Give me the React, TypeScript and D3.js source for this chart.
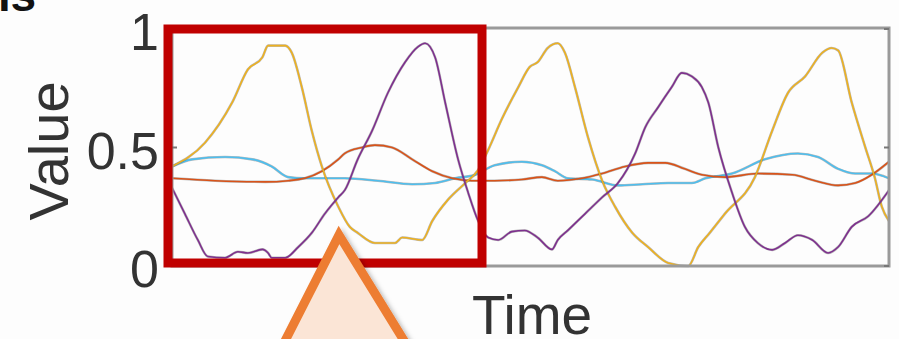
import React, { useEffect, useRef } from 'react';
import * as d3 from 'd3';

// series: [time, value]
const yellowData: [number, number][] = [
  [0, 0.42], [4.6, 0.52], [8.4, 0.69], [10.6, 0.83], [12.6, 0.88], [13.4, 0.93], [15.8, 0.93],
  [16.7, 0.9], [18.1, 0.755], [19.5, 0.57], [20.9, 0.42], [23.2, 0.25], [24.8, 0.165], [25.9, 0.14],
  [28.3, 0.097], [31.1, 0.097], [32.1, 0.12], [34.9, 0.11], [36.3, 0.19], [38.5, 0.28], [40.9, 0.35],
  [42.7, 0.405], [44.1, 0.49], [46.0, 0.62], [48.3, 0.755], [49.9, 0.84], [51.0, 0.86], [52.4, 0.92],
  [53.8, 0.94], [54.8, 0.9], [56.2, 0.755], [58.0, 0.545], [60.0, 0.36], [61.8, 0.25], [64.2, 0.14],
  [66.4, 0.08], [69.2, 0.013], [72.0, 0], [73.4, 0.08], [75.0, 0.14], [77.1, 0.22], [81.3, 0.375],
  [83.7, 0.57], [85.9, 0.73], [88.3, 0.8], [90.7, 0.9], [92.0, 0.92], [92.9, 0.91], [94.8, 0.69],
  [96.7, 0.5], [98.0, 0.375], [99.0, 0.25], [100, 0.19],
];

const purpleData: [number, number][] = [
  [0, 0.33], [1.8, 0.22], [3.6, 0.11], [5.0, 0.04], [7.4, 0.035], [9.2, 0.06], [10.6, 0.055],
  [12.6, 0.07], [13.4, 0.055], [13.9, 0.035], [15.8, 0.035], [17.6, 0.08], [19.5, 0.14], [21.3, 0.22],
  [23.2, 0.29], [24.1, 0.32], [25.9, 0.45], [27.9, 0.57], [30.1, 0.73], [32.5, 0.86], [34.3, 0.925],
  [35.3, 0.94], [36.7, 0.88], [38.1, 0.69], [39.9, 0.45], [41.3, 0.31], [42.7, 0.19], [44.1, 0.12],
  [45.5, 0.11], [47.4, 0.145], [49.2, 0.15], [51.0, 0.12], [53.0, 0.07], [53.8, 0.11], [55.2, 0.15],
  [57.6, 0.22], [60.0, 0.29], [62.2, 0.35], [64.6, 0.475], [66.0, 0.585], [67.8, 0.67], [69.7, 0.755],
  [71.1, 0.815], [72.5, 0.8], [73.9, 0.755], [74.8, 0.69], [76.2, 0.5], [78.1, 0.31], [79.9, 0.165],
  [81.7, 0.097], [83.7, 0.068], [85.5, 0.097], [87.3, 0.13], [89.3, 0.11], [91.5, 0.055], [92.9, 0.08],
  [94.8, 0.165], [97.1, 0.21], [100, 0.32],
];

const blueData: [number, number][] = [
  [0, 0.42], [2.8, 0.45], [7.4, 0.46], [11.2, 0.45], [13.9, 0.42], [16.2, 0.375], [18.5, 0.37],
  [21.3, 0.37], [24.1, 0.37], [28.7, 0.36], [33.5, 0.345], [36.7, 0.35], [39.5, 0.37], [42.3, 0.385],
  [45.0, 0.425], [48.8, 0.44], [51.6, 0.425], [53.4, 0.4], [55.2, 0.37], [58.6, 0.365], [62.2, 0.34],
  [65.6, 0.345], [69.2, 0.35], [72.5, 0.35], [74.4, 0.37], [78.1, 0.39], [82.7, 0.45], [87.3, 0.475],
  [90.1, 0.46], [92.9, 0.41], [95.3, 0.39], [97.6, 0.39], [100, 0.37],
];

const orangeData: [number, number][] = [
  [0, 0.37], [6.0, 0.36], [13.0, 0.355], [16.2, 0.36], [18.5, 0.37], [20.9, 0.4], [23.2, 0.45],
  [24.1, 0.475], [26.5, 0.5], [28.3, 0.51], [30.7, 0.5], [33.5, 0.45], [36.3, 0.4], [39.1, 0.37],
  [41.8, 0.36], [45.0, 0.36], [48.8, 0.365], [51.6, 0.375], [53.8, 0.36], [57.2, 0.37], [60.0, 0.39],
  [63.2, 0.42], [66.4, 0.435], [68.8, 0.435], [71.5, 0.41], [73.9, 0.385], [77.1, 0.375], [81.7, 0.39],
  [86.5, 0.385], [89.7, 0.36], [92.9, 0.34], [95.3, 0.35], [97.6, 0.385], [100, 0.44],
];

const series = [
  { name: 'blue', color: '#4DBEEE', values: blueData },
  { name: 'orange', color: '#D95319', values: orangeData },
  { name: 'yellow', color: '#EDB120', values: yellowData },
  { name: 'purple', color: '#7E2F8E', values: purpleData },
];

const yTicks = [0, 0.5, 1];
const yTickLabels = ['0', '0.5', '1'];

const App = () => {
  const ref = useRef<SVGSVGElement>(null);

  useEffect(() => {
    if (!ref.current) return;
    const svg = d3.select(ref.current);
    svg.selectAll('*').remove();

    const left = 172, right = 889, top = 28, bottom = 266;
    const font = "'Liberation Sans', Arial, sans-serif";

    const x = d3.scaleLinear().domain([0, 100]).range([left, right]);
    const y = d3.scaleLinear().domain([0, 1]).range([bottom, 29]);

    const defs = svg.append('defs');
    defs.append('clipPath').attr('id', 'plot-clip')
      .append('rect')
      .attr('x', left).attr('y', top - 2)
      .attr('width', right - left).attr('height', bottom - top + 4);

    const shadow = defs.append('filter').attr('id', 'tri-shadow')
      .attr('x', '-20%').attr('y', '-20%').attr('width', '150%').attr('height', '150%');
    shadow.append('feDropShadow')
      .attr('dx', 3).attr('dy', 3).attr('stdDeviation', 2.5)
      .attr('flood-color', '#000').attr('flood-opacity', 0.3);

    svg.append('rect').attr('width', 899).attr('height', 339).attr('fill', '#fdfdfd');

    // cut-off heading in the corner
    svg.append('text')
      .attr('x', 36).attr('y', 11)
      .attr('text-anchor', 'end')
      .style('font-family', font).style('font-weight', 'bold').style('font-size', '46px')
      .attr('fill', '#111')
      .text('ns');

    // lines
    const line = d3.line<[number, number]>()
      .x(d => x(d[0]))
      .y(d => y(d[1]))
      .curve(d3.curveMonotoneX);

    const g = svg.append('g').attr('clip-path', 'url(#plot-clip)');
    series.forEach(s => {
      g.append('path')
        .datum(s.values)
        .attr('d', line)
        .attr('fill', 'none')
        .attr('stroke', '#555')
        .attr('stroke-opacity', 0.4)
        .attr('stroke-width', 2.6);
      g.append('path')
        .datum(s.values)
        .attr('d', line)
        .attr('fill', 'none')
        .attr('stroke', s.color)
        .attr('stroke-width', 1.6);
    });

    // axes box
    svg.append('rect')
      .attr('x', left).attr('y', top)
      .attr('width', right - left).attr('height', bottom - top)
      .attr('fill', 'none')
      .attr('stroke', '#9a9a9a')
      .attr('stroke-width', 3);

    yTicks.forEach((t, i) => {
      svg.append('line')
        .attr('x1', left).attr('x2', left + 5)
        .attr('y1', y(t)).attr('y2', y(t))
        .attr('stroke', '#777').attr('stroke-width', 2);
      svg.append('line')
        .attr('x1', right - 5).attr('x2', right)
        .attr('y1', y(t)).attr('y2', y(t))
        .attr('stroke', '#777').attr('stroke-width', 2);
      svg.append('text')
        .attr('x', 159)
        .attr('y', y(t) + 3)
        .attr('text-anchor', 'end')
        .attr('dominant-baseline', 'central')
        .style('font-family', font).style('font-size', '52px')
        .attr('fill', '#333')
        .text(yTickLabels[i]);
    });

    svg.append('text')
      .attr('transform', 'translate(68,151) rotate(-90)')
      .attr('text-anchor', 'middle')
      .style('font-family', font).style('font-size', '56px')
      .attr('fill', '#333')
      .text('Value');

    svg.append('text')
      .attr('x', 532).attr('y', 334)
      .attr('text-anchor', 'middle')
      .style('font-family', font).style('font-size', '55px')
      .attr('fill', '#333')
      .text('Time');

    // red highlight box
    svg.append('rect')
      .attr('x', 168).attr('y', 29)
      .attr('width', 482 - 168).attr('height', 263 - 29)
      .attr('fill', 'none')
      .attr('stroke', '#c00000')
      .attr('stroke-width', 9);

    // orange pointer triangle
    const apex: [number, number] = [339, 235];
    const baseY = 420;
    const lx = apex[0] + (286 - apex[0]) * (baseY - apex[1]) / (339 - apex[1]);
    const rx = apex[0] + (403 - apex[0]) * (baseY - apex[1]) / (339 - apex[1]);
    svg.append('path')
      .attr('d', `M${apex[0]},${apex[1]}L${rx},${baseY}L${lx},${baseY}Z`)
      .attr('fill', '#fbe5d6')
      .attr('stroke', '#ed7d31')
      .attr('stroke-width', 9)
      .attr('stroke-linejoin', 'miter')
      .attr('filter', 'url(#tri-shadow)');
  }, []);

  return (
    <svg
      ref={ref}
      width={899}
      height={339}
      style={{ position: 'absolute', left: 0, top: 0, display: 'block' }}
    />
  );
};

export default App;
